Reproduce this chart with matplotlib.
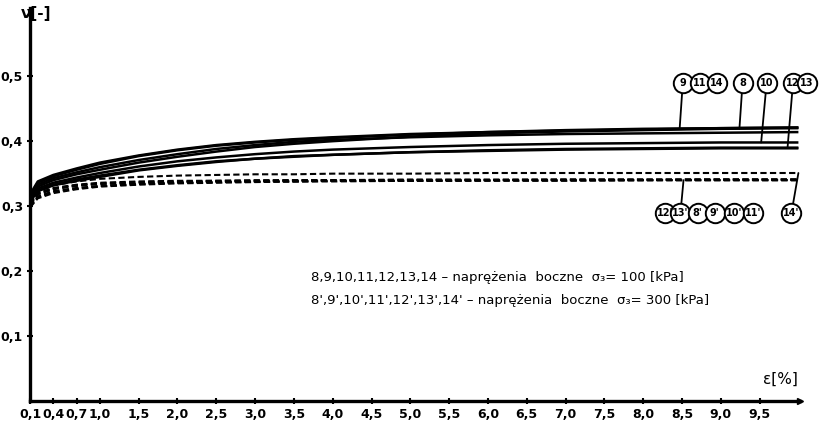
import matplotlib
matplotlib.use("Agg")

import matplotlib.pyplot as plt
import numpy as np

# strain grid [%]
eps = [0.1, 0.2, 0.4, 0.7, 1.0, 1.5, 2.0, 2.5, 3.0, 3.5, 4.0, 5.0, 6.0, 7.0, 8.0, 9.0, 10.0]

# Poisson ratio, lateral stress sigma3 = 100 kPa (solid)
nu_solid = {
    "9":  [0.318, 0.338, 0.348, 0.358, 0.367, 0.378, 0.387, 0.394, 0.399, 0.403, 0.406, 0.411, 0.414, 0.417, 0.419, 0.420, 0.421],
    "11": [0.316, 0.336, 0.346, 0.356, 0.365, 0.377, 0.386, 0.393, 0.398, 0.402, 0.405, 0.410, 0.414, 0.416, 0.418, 0.420, 0.421],
    "14": [0.314, 0.333, 0.343, 0.352, 0.360, 0.371, 0.380, 0.388, 0.394, 0.399, 0.402, 0.406, 0.409, 0.411, 0.412, 0.413, 0.414],
    "8":  [0.312, 0.330, 0.340, 0.349, 0.356, 0.367, 0.376, 0.384, 0.391, 0.396, 0.400, 0.407, 0.412, 0.415, 0.417, 0.419, 0.420],
    "10": [0.310, 0.327, 0.336, 0.344, 0.351, 0.361, 0.369, 0.375, 0.380, 0.384, 0.387, 0.391, 0.394, 0.396, 0.397, 0.398, 0.398],
    "12": [0.308, 0.324, 0.333, 0.341, 0.347, 0.356, 0.363, 0.369, 0.373, 0.377, 0.379, 0.383, 0.386, 0.388, 0.389, 0.390, 0.390],
    "13": [0.307, 0.323, 0.332, 0.339, 0.345, 0.355, 0.362, 0.368, 0.373, 0.376, 0.379, 0.383, 0.385, 0.387, 0.388, 0.389, 0.389],
}

# Poisson ratio, lateral stress sigma3 = 300 kPa (dashed)
nu_dashed = {
    "14'": [0.305, 0.322, 0.332, 0.338, 0.342, 0.345, 0.347, 0.348, 0.349, 0.349, 0.350, 0.350, 0.351, 0.351, 0.351, 0.351, 0.351],
    "8'":  [0.302, 0.318, 0.326, 0.331, 0.334, 0.336, 0.337, 0.338, 0.338, 0.339, 0.339, 0.340, 0.340, 0.340, 0.340, 0.341, 0.341],
    "9'":  [0.304, 0.320, 0.328, 0.333, 0.336, 0.338, 0.339, 0.339, 0.340, 0.340, 0.340, 0.341, 0.341, 0.341, 0.341, 0.341, 0.341],
    "10'": [0.300, 0.315, 0.323, 0.328, 0.331, 0.334, 0.336, 0.337, 0.338, 0.338, 0.339, 0.339, 0.340, 0.340, 0.340, 0.340, 0.340],
    "11'": [0.303, 0.319, 0.327, 0.332, 0.335, 0.337, 0.338, 0.339, 0.339, 0.340, 0.340, 0.340, 0.340, 0.341, 0.341, 0.341, 0.341],
    "12'": [0.298, 0.312, 0.320, 0.326, 0.330, 0.333, 0.335, 0.336, 0.337, 0.338, 0.338, 0.339, 0.339, 0.339, 0.340, 0.340, 0.340],
    "13'": [0.299, 0.314, 0.322, 0.327, 0.331, 0.334, 0.336, 0.337, 0.338, 0.338, 0.339, 0.339, 0.340, 0.340, 0.340, 0.340, 0.340],
}

x_ticks = [0.1, 0.4, 0.7, 1.0, 1.5, 2.0, 2.5, 3.0, 3.5, 4.0, 4.5, 5.0, 5.5, 6.0,
           6.5, 7.0, 7.5, 8.0, 8.5, 9.0, 9.5]
y_ticks = [0.1, 0.2, 0.3, 0.4, 0.5]

note_100 = "8,9,10,11,12,13,14 – naprężenia  boczne  σ₃= 100 [kPa]"
note_300 = "8',9',10',11',12',13',14' – naprężenia  boczne  σ₃= 300 [kPa]"

# circled labels: (text, x position, leader target eps or None, series)
top_row = 0.489
top_labels = [("9", 8.51, 8.47, nu_solid["9"]),
              ("11", 8.73, None, None),
              ("14", 8.95, None, None),
              ("8", 9.28, 9.24, nu_solid["8"]),
              ("10", 9.59, 9.52, nu_solid["10"]),
              ("12", 9.93, 9.86, nu_solid["12"]),
              ("13", 10.11, None, None)]
bottom_row = 0.289
bottom_labels = [("12'", 8.28, None, None),
                 ("13'", 8.48, 8.52, nu_dashed["13'"]),
                 ("8'", 8.70, None, None),
                 ("9'", 8.92, None, None),
                 ("10'", 9.17, None, None),
                 ("11'", 9.42, None, None),
                 ("14'", 9.91, 10.0, nu_dashed["14'"])]


def fmt(v):
    return f"{v:.1f}".replace(".", ",")


fig = plt.figure(figsize=(8.27, 4.30), dpi=100)
ax = fig.add_axes([0.0363, 0.0674, 0.931, 0.914])
ax.set_xlim(0.1, 10.02)
ax.set_ylim(0.0, 0.605)

for name, vals in nu_solid.items():
    ax.plot(eps, vals, "-", color="black", lw=1.8, solid_capstyle="butt")
for name, vals in nu_dashed.items():
    ax.plot(eps, vals, color="black", lw=1.5, linestyle=(0, (3.0, 1.6)))

# axes: thick left/bottom spines, arrow on the strain axis
for s in ("top", "right"):
    ax.spines[s].set_visible(False)
for s in ("left", "bottom"):
    ax.spines[s].set_linewidth(2.4)
ax.plot(1.0, 0.0, ">k", ms=5, transform=ax.transAxes, clip_on=False)

ax.set_xticks(x_ticks)
ax.set_xticklabels([fmt(v) for v in x_ticks])
ax.set_yticks(y_ticks)
ax.set_yticklabels([fmt(v) for v in y_ticks])
ax.tick_params(direction="inout", length=4, width=1.5, pad=3)
for lab in ax.get_xticklabels() + ax.get_yticklabels():
    lab.set_fontsize(9)
    lab.set_fontweight("bold")

ax.text(-0.012, 0.985, "ν[-]", transform=ax.transAxes, fontsize=11,
        fontweight="bold", ha="left", va="center")
ax.text(0.975, 0.055, "ε[%]", transform=ax.transAxes, fontsize=11,
        ha="center", va="center")

ax.text(0.365, 0.315, note_100, transform=ax.transAxes, fontsize=9.5, ha="left", va="center")
ax.text(0.365, 0.255, note_300, transform=ax.transAxes, fontsize=9.5, ha="left", va="center")

# leaders first, then equal-size circles with the curve numbers on top
for row_y, labels in ((top_row, top_labels), (bottom_row, bottom_labels)):
    for text, tx, target, series in labels:
        if target is not None:
            ty = np.interp(target, eps, series)
            ax.annotate("", xy=(target, ty), xytext=(tx, row_y),
                        arrowprops=dict(arrowstyle="-", lw=1.3, color="black",
                                        shrinkA=0, shrinkB=0),
                        annotation_clip=False, zorder=3)
    xs = [lab[1] for lab in labels]
    ax.plot(xs, [row_y] * len(xs), "o", ms=14, mfc="white", mec="black", mew=1.4,
            clip_on=False, zorder=4)
    for text, tx, target, series in labels:
        ax.text(tx, row_y, text, ha="center", va="center", fontsize=7,
                fontweight="bold", clip_on=False, zorder=5)

fig.savefig("out.png", dpi=100, facecolor="white")
